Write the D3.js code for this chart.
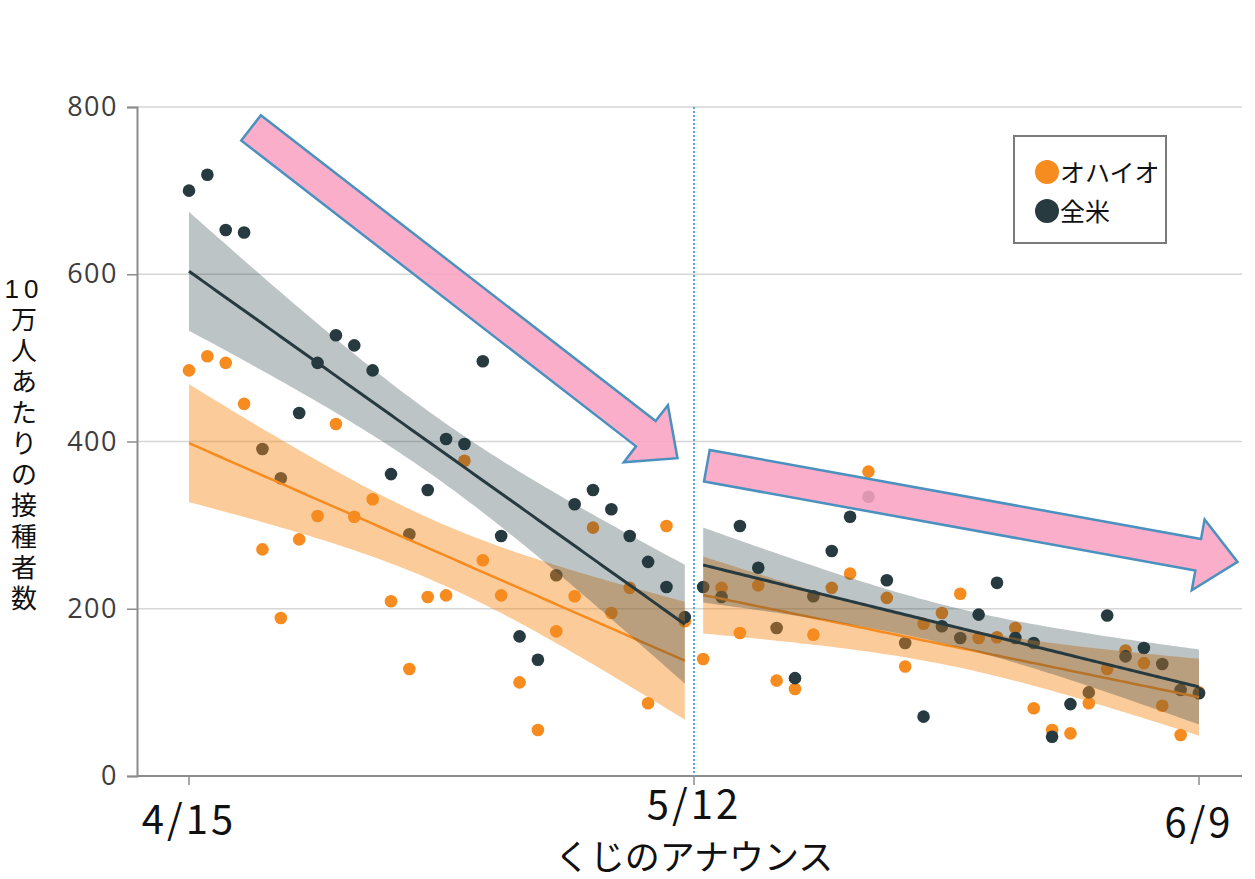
<!DOCTYPE html>
<html>
<head>
<meta charset="utf-8">
<script src="https://cdn.jsdelivr.net/npm/d3@7"></script>
<style>
  body { margin: 0; background: #fff; }
  svg { display: block; }
</style>
</head>
<body>
<svg id="chart" width="1255" height="879"></svg>
<script>
// days counted from 4/15; the lottery was announced between day 27 and 28
const beforeDays = d3.range(0, 28);
const afterDays = d3.range(28, 56);

const ohioBefore = [485, 502, 494, 445, 271, 189, 283, 311, 421, 310, 331, 209, 128, 214,
  216, 377, 258, 216, 112, 55, 173, 215, 297, 195, 225, 87, 299, 185];
const usBefore = [700, 719, 653, 650, 391, 356, 434, 494, 527, 515, 485, 361, 289, 342,
  403, 397, 496, 287, 167, 139, 240, 325, 342, 319, 287, 256, 226, 190];
const ohioAfter = [140, 225, 171, 228, 114, 104, 169, 225, 242, 364, 213, 131, 182, 195,
  218, 165, 166, 177, 81, 55, 51, 87, 128, 150, 135, 84, 49, 100];
const usAfter = [226, 214, 299, 249, 177, 117, 215, 269, 310, 334, 234, 159, 71, 179,
  165, 193, 231, 165, 159, 47, 86, 100, 192, 143, 153, 134, 103, 99];

const tickDays = [0, 27.5, 55];
const tickLabels = ['4/15', '5/12', '6/9'];
const announceDay = 27.5;
const yTicks = [0, 200, 400, 600, 800];
const seriesNames = ['オハイオ', '全米'];
const yTitle = ['10', '万', '人', 'あ', 'た', 'り', 'の', '接', '種', '者', '数'];
const xTitle = 'くじのアナウンス';

const colors = { ohio: '#f68b1f', us: '#263a40' };

const svg = d3.select('#chart');
const x = d3.scaleLinear().domain([0, 55]).range([189, 1199]);
const y = d3.scaleLinear().domain([0, 800]).range([776, 107]);
const left = 137, right = 1242;

// grid
svg.append('g').selectAll('line')
  .data(yTicks.filter(d => d > 0))
  .enter().append('line')
  .attr('x1', left).attr('x2', right)
  .attr('y1', d => y(d)).attr('y2', d => y(d))
  .attr('stroke', '#d6d6d6').attr('stroke-width', 1.5);

// y axis
const yAxis = svg.append('g')
  .attr('transform', `translate(${left},0)`)
  .call(d3.axisLeft(y).tickValues(yTicks).tickSize(10).tickPadding(9));
yAxis.select('.domain').attr('stroke', '#8c8c8c').attr('stroke-width', 2);
yAxis.selectAll('.tick line').attr('stroke', '#8c8c8c').attr('stroke-width', 1.5);
yAxis.selectAll('.tick text')
  .attr('fill', '#3d3d3d')
  .style('font-family', '"Open Sans", sans-serif')
  .style('font-size', '27px')
  .style('letter-spacing', '1.5px');

// x axis
svg.append('line')
  .attr('x1', left).attr('x2', right)
  .attr('y1', y(0)).attr('y2', y(0))
  .attr('stroke', '#8c8c8c').attr('stroke-width', 2);
svg.append('g').selectAll('line')
  .data(tickDays)
  .enter().append('line')
  .attr('x1', d => x(d)).attr('x2', d => x(d))
  .attr('y1', y(0)).attr('y2', y(0) + 9)
  .attr('stroke', '#8c8c8c').attr('stroke-width', 1.5);

const labelDy = { '4/15': 58, '5/12': 43, '6/9': 61 };
svg.append('g').selectAll('text')
  .data(tickDays)
  .enter().append('text')
  .attr('x', d => x(d))
  .attr('y', (d, i) => y(0) + labelDy[tickLabels[i]])
  .attr('text-anchor', 'middle')
  .style('font-family', '"Noto Sans CJK JP", sans-serif')
  .style('font-size', '40px')
  .style('letter-spacing', '3px')
  .attr('fill', '#111')
  .text((d, i) => tickLabels[i]);

svg.append('text')
  .attr('x', x(announceDay))
  .attr('y', 870)
  .attr('text-anchor', 'middle')
  .style('font-family', '"Noto Sans CJK JP", sans-serif')
  .style('font-size', '35px')
  .attr('fill', '#111')
  .text(xTitle);

// y title, one character per row
svg.append('g').selectAll('text')
  .data(yTitle)
  .enter().append('text')
  .attr('x', 24)
  .attr('y', (d, i) => 298 + i * 31)
  .attr('text-anchor', 'middle')
  .style('font-family', '"Liberation Sans", "Noto Sans CJK JP", sans-serif')
  .style('font-size', '26px')
  .style('letter-spacing', d => d.length > 1 ? '5px' : '0px')
  .attr('fill', '#111')
  .text(d => d);

// announcement line
svg.append('line')
  .attr('x1', x(announceDay)).attr('x2', x(announceDay))
  .attr('y1', y(800)).attr('y2', y(0))
  .attr('stroke', '#5aa7d4').attr('stroke-width', 2)
  .attr('stroke-dasharray', '2,2');

// points
function dots(days, vals, color) {
  svg.append('g').selectAll('circle')
    .data(vals)
    .enter().append('circle')
    .attr('cx', (d, i) => x(days[i]))
    .attr('cy', d => y(d))
    .attr('r', 6.3)
    .attr('fill', color);
}
dots(beforeDays, ohioBefore, colors.ohio);
dots(afterDays, ohioAfter, colors.ohio);
dots(beforeDays, usBefore, colors.us);
dots(afterDays, usAfter, colors.us);

// linear fit with 95% band
function fit(xs, ys) {
  const n = xs.length;
  const mx = d3.mean(xs), my = d3.mean(ys);
  const sxx = d3.sum(xs, v => (v - mx) ** 2);
  const sxy = d3.sum(xs, (v, i) => (v - mx) * (ys[i] - my));
  const b = sxy / sxx, a = my - b * mx;
  const sse = d3.sum(xs, (v, i) => (ys[i] - (a + b * v)) ** 2);
  const s = Math.sqrt(sse / (n - 2));
  const t = 2.056; // df = 26
  return d3.range(xs[0], xs[n - 1] + 0.001, 0.25).map(v => {
    const fitV = a + b * v;
    const h = t * s * Math.sqrt(1 / n + (v - mx) ** 2 / sxx);
    return { x: v, y: fitV, lo: fitV - h, hi: fitV + h };
  });
}

function smooth(days, vals, color, bandOpacity, width) {
  const pts = fit(days, vals);
  svg.append('path')
    .datum(pts)
    .attr('d', d3.area().x(d => x(d.x)).y0(d => y(d.lo)).y1(d => y(d.hi)))
    .attr('fill', color).attr('opacity', bandOpacity);
  svg.append('path')
    .datum(pts)
    .attr('d', d3.line().x(d => x(d.x)).y(d => y(d.y)))
    .attr('fill', 'none').attr('stroke', color).attr('stroke-width', width);
}
smooth(beforeDays, ohioBefore, colors.ohio, 0.45, 2.5);
smooth(afterDays, ohioAfter, colors.ohio, 0.45, 2.5);
smooth(beforeDays, usBefore, colors.us, 0.3, 3);
smooth(afterDays, usAfter, colors.us, 0.3, 3);

// annotation arrows (given in data units)
const arrows = [
  { from: [3.38, 775], to: [26.6, 380] },
  { from: [28.2, 371], to: [57.1, 256] }
];
function arrowPoints(a) {
  const p0 = [x(a.from[0]), y(a.from[1])], p1 = [x(a.to[0]), y(a.to[1])];
  const len = Math.hypot(p1[0] - p0[0], p1[1] - p0[1]);
  const u = [(p1[0] - p0[0]) / len, (p1[1] - p0[1]) / len];
  const n = [-u[1], u[0]];
  const sh = 16, hh = 36, hl = 40;
  const base = [p1[0] - u[0] * hl, p1[1] - u[1] * hl];
  const off = (p, k) => [p[0] + n[0] * k, p[1] + n[1] * k];
  return [off(p0, sh), off(base, sh), off(base, hh), p1, off(base, -hh), off(base, -sh), off(p0, -sh)];
}
svg.append('g').selectAll('polygon')
  .data(arrows)
  .enter().append('polygon')
  .attr('points', d => arrowPoints(d).map(p => p.join(',')).join(' '))
  .attr('fill', '#f9a3c1')
  .attr('fill-opacity', 0.88)
  .attr('stroke', '#4b91bf')
  .attr('stroke-width', 2.5)
  .attr('stroke-linejoin', 'miter');

// legend
const legend = svg.append('g').attr('transform', 'translate(1014,136)');
legend.append('rect')
  .attr('width', 152).attr('height', 107)
  .attr('fill', '#fff').attr('stroke', '#7a7a7a').attr('stroke-width', 2);
const items = legend.selectAll('g.item')
  .data(seriesNames)
  .enter().append('g')
  .attr('transform', (d, i) => `translate(33,${36 + i * 39})`);
items.append('circle')
  .attr('r', 12)
  .attr('fill', (d, i) => i === 0 ? colors.ohio : colors.us);
items.append('text')
  .attr('x', 13).attr('y', 10)
  .style('font-family', '"Noto Sans CJK JP", sans-serif')
  .style('font-size', '25px')
  .attr('fill', '#111')
  .text(d => d);
</script>
</body>
</html>
